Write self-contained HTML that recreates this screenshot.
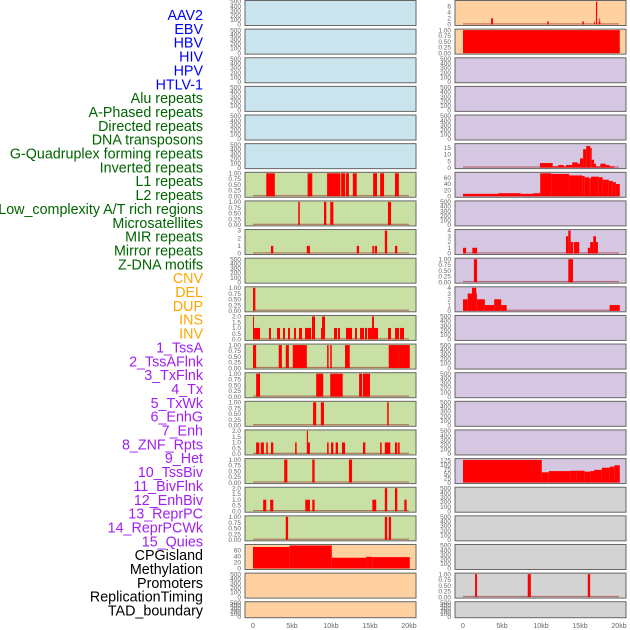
<!DOCTYPE html>
<html><head><meta charset="utf-8"><style>
html,body{margin:0;padding:0;background:#fff;width:630px;height:630px;overflow:hidden}
svg{display:block}
text{font-family:"Liberation Sans",sans-serif}
</style></head><body>
<svg id="c" width="630" height="630" xmlns="http://www.w3.org/2000/svg"></svg>
<script>
const trackLabels=["AAV2","EBV","HBV","HIV","HPV","HTLV-1","Alu repeats","A-Phased repeats","Directed repeats","DNA transposons","G-Quadruplex forming repeats","Inverted repeats","L1 repeats","L2 repeats","Low_complexity A/T rich regions","Microsatellites","MIR repeats","Mirror repeats","Z-DNA motifs","CNV","DEL","DUP","INS","INV","1_TssA","2_TssAFlnk","3_TxFlnk","4_Tx","5_TxWk","6_EnhG","7_Enh","8_ZNF_Rpts","9_Het","10_TssBiv","11_BivFlnk","12_EnhBiv","13_ReprPC","14_ReprPCWk","15_Quies","CPGisland","Methylation","Promoters","ReplicationTiming","TAD_boundary"];
const labelColors=["#0000ff","#0000ff","#0000ff","#0000ff","#0000ff","#0000ff","#006400","#006400","#006400","#006400","#006400","#006400","#006400","#006400","#006400","#006400","#006400","#006400","#006400","#ffa500","#ffa500","#ffa500","#ffa500","#ffa500","#a020f0","#a020f0","#a020f0","#a020f0","#a020f0","#a020f0","#a020f0","#a020f0","#a020f0","#a020f0","#a020f0","#a020f0","#a020f0","#a020f0","#a020f0","#000","#000","#000","#000","#000"];
const xTicks=[0,5,10,15,20];
const xTickLabels=["0","5kb","10kb","15kb","20kb"];
const tEmpty=[0,100,200,300,400,500];
const tBin=[0,0.25,0.5,0.75,1];
const tHalf=[0,0.5,1,1.5,2];
const leftBg=["#c9e4ec","#c9e4ec","#c9e4ec","#c9e4ec","#c9e4ec","#c9e4ec","#c9e0a5","#c9e0a5","#c9e0a5","#c9e0a5","#c9e0a5","#c9e0a5","#c9e0a5","#c9e0a5","#c9e0a5","#c9e0a5","#c9e0a5","#c9e0a5","#c9e0a5","#ffd1a1","#ffd1a1","#ffd1a1"];
const rightBg=["#ffd1a1","#ffd1a1","#d5c6e2","#d5c6e2","#d5c6e2","#d5c6e2","#d5c6e2","#d5c6e2","#d5c6e2","#d5c6e2","#d5c6e2","#d5c6e2","#d5c6e2","#d5c6e2","#d5c6e2","#d5c6e2","#d5c6e2","#d3d3d3","#d3d3d3","#d3d3d3","#d3d3d3","#d3d3d3"];
// bars: [startKb,endKb,value]
const L6=[[1.7,2.8,1],[7.0,7.6,1],[9.5,11.2,1],[11.3,11.8,1],[11.9,12.3,1],[12.8,13.3,1],[15.4,15.9,1],[16.3,16.8,1],[18.2,18.7,1]];
const L7=[[5.8,6.0,1],[9.1,9.4,1],[9.9,10.3,1],[17.3,17.7,1]];
const L8=[[2.3,2.6,1],[6.9,7.3,1],[13.3,13.6,1],[15.3,15.5,1],[15.6,15.9,1],[16.9,17.2,3],[18.2,18.5,1]];
const L10=[[0,0.3,1]];
const L11=[[0,0.13,2],[0.13,0.38,1],[0.38,0.9,1],[2.05,2.3,1],[3.08,3.46,1],[3.85,4.1,1],[4.49,4.74,1],[5.26,5.51,1],[5.9,6.28,1],[6.67,7.44,1],[7.56,7.95,2],[8.72,8.85,1],[8.85,9.23,2],[10.38,10.77,1],[10.9,11.15,1],[11.92,12.69,1],[13.08,13.33,1],[13.72,13.97,1],[13.97,14.23,1],[14.36,14.62,1],[14.74,15.26,1],[15.26,15.51,2],[15.51,16.03,1],[17.31,17.69,1],[18.21,18.72,1],[18.85,19.36,1]];
const L12=[[0,0.4,1],[3.3,3.7,1],[4.2,4.6,1],[5.1,6.9,1],[9.5,9.7,1],[9.9,10.1,1],[11.8,12.4,1],[17.4,18.6,1],[18.6,20.1,1]];
const L13=[[0.4,0.9,1],[8.1,9.0,1],[9.9,11.5,1],[13.6,14.0,1],[14.1,15.0,1]];
const L14=[[7.7,8.1,1],[8.7,9.1,1],[17.2,17.4,1]];
const L15=[[0.4,0.8,1],[1.0,1.4,1],[1.7,1.9,1],[2.3,2.6,1],[5.4,5.6,1],[6.9,7.05,2],[7.05,7.3,1],[9.5,9.7,1],[10.0,10.3,1],[10.6,10.9,1],[11.4,11.8,1],[14.1,14.4,1],[16.3,16.5,1],[16.9,17.6,1],[18.2,18.5,1],[18.6,18.8,1]];
const L16=[[4.0,4.4,1],[7.6,7.9,1],[12.3,12.7,1]];
const L17=[[1.3,1.7,1],[2.2,2.6,1],[6.7,7.3,1],[7.6,7.9,1],[15.3,15.8,1],[16.9,17.2,2],[18.2,18.5,2],[19.4,19.7,1]];
const L18=[[4.2,4.5,1],[16.9,17.2,1],[17.4,17.7,1]];
const L19=[[0,4.7,70],[4.7,10.1,75],[10.1,14.5,35],[14.5,15.3,38],[15.3,20.1,37]];
const R0=[[3.6,3.85,2],[10.8,11.0,1],[15.3,15.5,1],[16.8,16.9,1],[17.05,17.2,7.5],[17.4,17.5,2],[17.5,17.6,1]];
const R1=[[0,20.1,1]];
const R5=[[9.87,11.5,3.5],[11.5,12.2,1],[12.2,12.9,2],[12.9,13.2,1],[13.2,14.0,2],[14.0,14.7,4],[14.7,15.0,3],[15.0,15.4,7],[15.4,15.8,14],[15.8,16.3,16.5],[16.3,16.5,15],[16.5,16.8,6],[16.8,17.05,3],[17.05,17.6,1],[17.6,18.3,3],[18.3,18.8,2],[18.8,19.4,1]];
const R6=[[0,4.5,8],[4.5,7.4,10],[7.4,9.0,8],[9.0,9.9,10],[9.9,11.3,75],[11.3,13.6,73],[13.6,15.3,68],[15.3,15.6,66],[15.6,16.2,62],[16.2,16.4,58],[16.4,17.4,64],[17.4,17.9,62],[17.9,18.7,54],[18.7,19.2,50],[19.2,19.6,46],[19.6,20.1,40]];
const R8=[[0,0.4,1],[1.2,1.8,1],[13.2,13.5,3],[13.5,13.8,4],[13.8,14.1,2],[14.2,14.9,2],[16.0,16.3,1],[16.3,16.7,2],[16.7,17.05,3],[17.05,17.3,2]];
const R9=[[1.4,1.8,1],[13.5,14.1,1]];
const R10=[[0,0.6,2],[0.6,1.15,3],[1.15,1.7,4],[1.7,1.8,3],[1.8,2.8,2],[2.8,4.0,1],[4.0,4.9,2],[4.9,5.6,1],[18.8,20.1,1]];
const R16=[[0,10.1,128],[10.1,11.0,58],[11.0,13.8,65],[13.8,14.5,67],[14.5,15.6,67],[15.6,16.3,62],[16.3,16.8,65],[16.8,17.8,72],[17.8,18.8,84],[18.8,19.4,90],[19.4,20.1,98]];
const R20=[[1.55,1.8,1],[8.3,8.7,1],[16.0,16.3,1]];
// [bars, yMax, ticks]
const leftTracks={6:[L6,1,tBin],7:[L7,1,tBin],8:[L8,3,[0,1,2,3]],10:[L10,1,tBin],11:[L11,2,tHalf],12:[L12,1,tBin],13:[L13,1,tBin],14:[L14,1,tBin],15:[L15,2,tHalf],16:[L16,1,tBin],17:[L17,2,tHalf],18:[L18,1,tBin],19:[L19,75,[0,20,40,60]]};
const rightTracks={0:[R0,7.5,[0,2,4,6]],1:[R1,1,tBin],5:[R5,17.5,[0,5,10,15]],6:[R6,75,[0,20,40,60]],8:[R8,4,[0,1,2,3,4]],9:[R9,1,tBin],10:[R10,4,[0,1,2,3,4]],16:[R16,130,[0,25,50,75,100,125]],20:[R20,1,tBin]};

const NS="http://www.w3.org/2000/svg";
const svg=document.getElementById('c');
function mk(tag,attrs,parent){const e=document.createElementNS(NS,tag);for(const k in attrs)e.setAttribute(k,attrs[k]);(parent||svg).appendChild(e);return e;}

trackLabels.forEach((t,i)=>{
  const e=mk('text',{x:203,y:15+i*13.85+5,'text-anchor':'end','font-size':14.3,fill:labelColors[i]});
  e.textContent=t;
  
  
});
function fmt(v,ticks){if(ticks===tBin)return v.toFixed(2);if(ticks===tHalf)return v.toFixed(1);return String(v);}
function panel(col,i,bg,track){
  const left=col===0?245:455, x0=col===0?253:463, kbpx=7.8, w=171;
  const top=0.5+i*28.63, h=i===21?16:25;
  const xs=kb=>x0+kb*kbpx;
  const g=mk('g',{});
  
  
  mk('rect',{x:left,y:top,width:w,height:h,fill:bg,stroke:'#666','stroke-width':1},g);
  const yMax=track?track[1]:500, ticks=track?track[2]:tEmpty;
  const ys=v=>top+h-1-(v/yMax)*(h-2);
  ticks.forEach(v=>{
    const t=mk('text',{x:left-4,y:ys(v)+2.2,'text-anchor':'end','font-size':6.5,fill:'#666'},g);
    t.textContent=fmt(v,ticks);
    
    
  });
  if(track){
    mk('rect',{x:xs(0),y:top+h-2.2,width:xs(20)-xs(0),height:1.2,fill:'#a03030',opacity:0.6},g);
    track[0].forEach(b=>{
      const r=mk('rect',{x:xs(b[0]),y:ys(b[2]),width:Math.max(0.8,xs(b[1])-xs(b[0])),height:ys(0)-ys(b[2]),fill:'#ff0000'},g);
      
      
    });
  }
  if(i===21){
    xTicks.forEach((v,k)=>{
      const t=mk('text',{x:xs(v),y:628,'text-anchor':'middle','font-size':7,fill:'#666'});
      t.textContent=xTickLabels[k];
      
      
    });
  }
}
for(let i=0;i<22;i++){panel(0,i,leftBg[i],leftTracks[i]);panel(1,i,rightBg[i],rightTracks[i]);}
</script>
</body></html>
